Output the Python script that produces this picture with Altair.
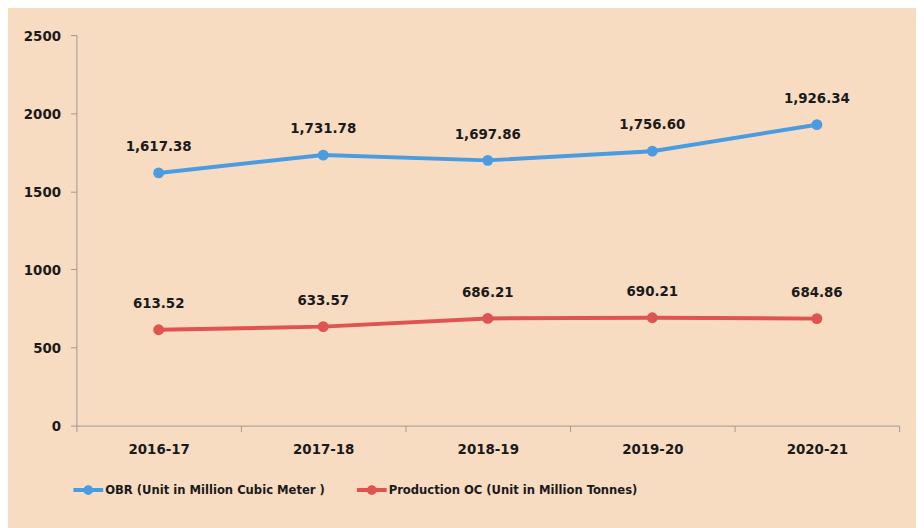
import altair as alt
import pandas as pd

years = ["2016-17", "2017-18", "2018-19", "2019-20", "2020-21"]
obr = [1617.38, 1731.78, 1697.86, 1756.60, 1926.34]
prod = [613.52, 633.57, 686.21, 690.21, 684.86]
series_names = ["OBR (Unit in Million Cubic Meter )", "Production OC (Unit in Million Tonnes)"]
colors = ["#4b9be0", "#df5350"]
y_ticks = [0, 500, 1000, 1500, 2000, 2500]

rows = []
for name, vals in zip(series_names, [obr, prod]):
    for yr, v in zip(years, vals):
        rows.append({"year": yr, "value": v, "series": name, "label": f"{v:,.2f}"})
df = pd.DataFrame(rows)

FONT = "Liberation Sans Narrow, DejaVu Sans Condensed, Liberation Sans, sans-serif"

legend_path = ("M-1,-0.13H1V0.13H-1Z "
               "M-0.33,0A0.33,0.33 0 1,1 0.33,0A0.33,0.33 0 1,1 -0.33,0Z")

x = alt.X("year:N", sort=years, title=None,
          axis=alt.Axis(labelAngle=0, labelFont=FONT, labelFontSize=15, labelFontWeight="bold",
                        labelColor="#1a1a1a", labelPadding=10, tickBand="extent",
                        domainColor="#9a9a9a", tickColor="#9a9a9a", tickSize=6, grid=False))
y = alt.Y("value:Q", title=None, scale=alt.Scale(domain=[0, 2500], nice=False),
          axis=alt.Axis(values=y_ticks, format="d", labelFont=FONT, labelFontSize=15,
                        labelFontWeight="bold", labelColor="#1a1a1a", labelPadding=10,
                        domainColor="#9a9a9a", tickColor="#9a9a9a", tickSize=6, grid=False))
color = alt.Color("series:N", sort=series_names,
                  scale=alt.Scale(domain=series_names, range=colors),
                  legend=alt.Legend(title=None, orient="none", direction="horizontal",
                                    legendX=-3, legendY=444, symbolType=legend_path,
                                    symbolSize=900, symbolStrokeWidth=0, labelFont=FONT,
                                    labelFontSize=13, labelFontWeight="bold", labelLimit=500,
                                    labelColor="#1a1a1a", labelOffset=2, columnPadding=32))

base = alt.Chart(df)
lines = base.mark_line(strokeWidth=4).encode(x=x, y=y, color=color)
points = base.mark_point(filled=True, size=120, opacity=1).encode(x=x, y=y, color=color)
labels = base.mark_text(font=FONT, fontSize=15, fontWeight="bold", color="#1a1a1a",
                        dy=-27, baseline="middle").encode(x=x, y=y, text="label:N")

chart = (lines + points + labels).properties(
    width=830, height=394,
    background="#f8dcc2",
    padding={"left": 69, "top": 25, "right": 17, "bottom": 101},
    autosize=alt.AutoSizeParams(type="none"),
).configure_view(stroke=None)

chart.save("out.html", embed_options={"renderer": "svg", "actions": False})
